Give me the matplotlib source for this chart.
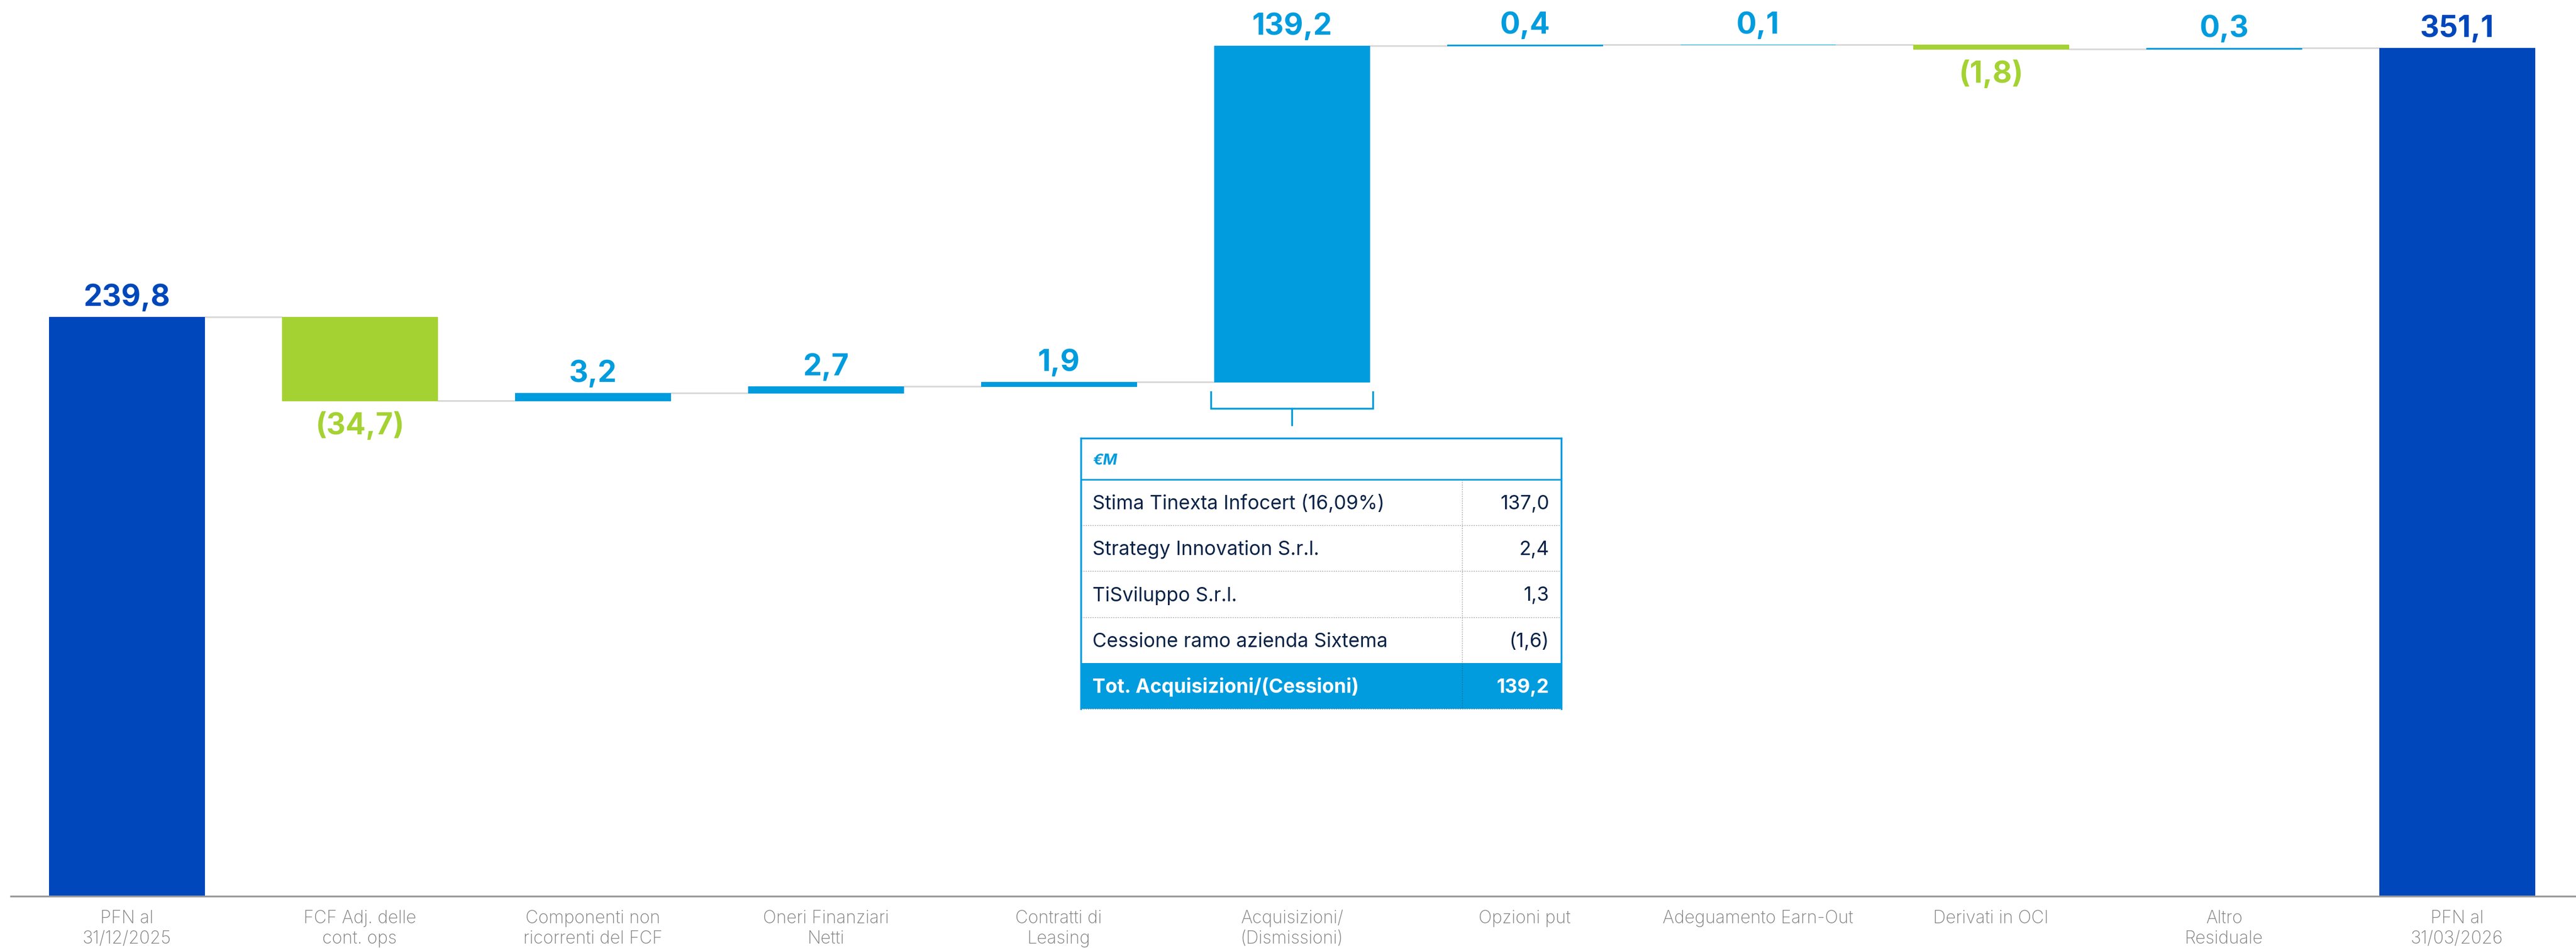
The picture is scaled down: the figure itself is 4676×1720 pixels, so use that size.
import matplotlib
matplotlib.use("Agg")
import matplotlib.pyplot as plt
import matplotlib.transforms as mtransforms

plt.rcParams['font.family'] = ['Inter', 'DejaVu Sans']

# ---------------- data ----------------
categories = ["PFN al\n31/12/2025", "FCF Adj. delle\ncont. ops", "Componenti non\nricorrenti del FCF",
              "Oneri Finanziari\nNetti", "Contratti di\nLeasing", "Acquisizioni/\n(Dismissioni)",
              "Opzioni put", "Adeguamento Earn-Out", "Derivati in OCI", "Altro\nResiduale",
              "PFN al\n31/03/2026"]
values = [239.8, -34.7, 3.2, 2.7, 1.9, 139.2, 0.4, 0.1, -1.8, 0.3, 351.1]
is_total = [True, False, False, False, False, False, False, False, False, False, True]

table_items = ["Stima Tinexta Infocert (16,09%)", "Strategy Innovation S.r.l.",
               "TiSviluppo S.r.l.", "Cessione ramo azienda Sixtema"]
table_values = [137.0, 2.4, 1.3, -1.6]
table_header = "€M"
table_total_label = "Tot. Acquisizioni/(Cessioni)"
table_total_value = 139.2

# ---------------- style ----------------
DARK = "#0047BB"
LIGHT = "#009CDE"
GREEN = "#A5D233"
CONN = "#D9D9D9"
AXIS = "#9A9A9A"
TICK = "#808080"
NAVY = "#0B2347"

W, H = 4676, 1720
fig = plt.figure(figsize=(W / 100, H / 100), dpi=100)
ax = fig.add_axes([0, 0, 1, 1])
ax.set_xlim(-0.5437, 10.511)
ax.set_ylim(-21.45, 371.0)
ax.axis('off')


def fmt(v):
    s = f"{abs(v):.1f}".replace(".", ",")
    return f"({s})" if v < 0 else s


def P(px, py):
    return px / W, 1 - py / H


bw = 0.667
running = 0.0
levels = []
for i, (v, tot) in enumerate(zip(values, is_total)):
    if tot:
        bottom, height = 0.0, v
        running = v
        color = DARK
    else:
        bottom = running if v >= 0 else running + v
        height = abs(v)
        running += v
        color = LIGHT if v >= 0 else GREEN
    levels.append(running)
    ax.bar(i, height, bottom=bottom, width=bw, color=color, edgecolor=color, linewidth=0.8,
           zorder=3)
    if v >= 0:
        ax.annotate(fmt(v), (i, bottom + height), xytext=(0, 14.4), textcoords='offset points',
                    ha='center', va='baseline', fontsize=39, fontweight='bold',
                    color=DARK if tot else LIGHT, zorder=5)
    else:
        ax.annotate(fmt(v), (i, bottom), xytext=(0, -14.4), textcoords='offset points',
                    ha='center', va='top', fontsize=39, fontweight='bold', color=GREEN, zorder=5)

# connectors
for i in range(len(values) - 1):
    ax.plot([i + bw / 2, i + 1 - bw / 2], [levels[i], levels[i]], color=CONN, lw=2.2,
            solid_capstyle='butt', zorder=2)

# baseline axis
ax.plot([-0.5437 + 18 / 423, 10.511], [0, 0], color=AXIS, lw=2.4, zorder=4,
        solid_capstyle='butt')

# category labels
blend = mtransforms.blended_transform_factory(ax.transData, fig.transFigure)
for i, lab in enumerate(categories):
    for j, line in enumerate(lab.split("\n")):
        x, y = P(0, 1675 + 37 * j)
        ax.text(i, y, line, transform=blend, ha='center', va='baseline', fontsize=23,
                color=TICK, fontweight='light')

# ---------------- bracket ----------------
bx0, bx1, bxm = 2198, 2492, 2345
for xs, ys in [([bx0, bx0, bx1, bx1], [711, 741, 741, 711]), ([bxm, bxm], [741, 771])]:
    pts = [P(x, y) for x, y in zip(xs, ys)]
    fig.lines.append(plt.Line2D([p[0] for p in pts], [p[1] for p in pts], color=LIGHT, lw=2.4,
                                transform=fig.transFigure, solid_joinstyle='miter'))

# ---------------- table ----------------
tx0, tx1, tcol = 1962, 2834, 2654
rows = [795, 870, 953, 1036, 1120, 1203, 1286]

# total row fill
x0, y0 = P(tx0, rows[-1])
x1, y1 = P(tx1, rows[-2])
fig.patches.append(plt.Rectangle((x0, y0), x1 - x0, y1 - y0, facecolor=LIGHT, edgecolor='none',
                                 transform=fig.transFigure))


def hline(py, xa, xb, **kw):
    a, b = P(xa, py), P(xb, py)
    fig.lines.append(plt.Line2D([a[0], b[0]], [a[1], b[1]], transform=fig.transFigure, **kw))


def vline(px, ya, yb, **kw):
    a, b = P(px, ya), P(px, yb)
    fig.lines.append(plt.Line2D([a[0], b[0]], [a[1], b[1]], transform=fig.transFigure, **kw))


for py in rows[2:5]:
    hline(py, tx0, tx1, color="#A8A8A8", lw=1.0, ls=(0, (1.5, 1.5)))
vline(tcol, rows[1], rows[5], color="#A8A8A8", lw=1.0, ls=(0, (1.5, 1.5)))
vline(tcol, rows[5], rows[6], color="#1B6E9E", lw=1.0, ls=(0, (1.5, 1.5)))
hline(rows[1], tx0, tx1, color=LIGHT, lw=2.0)
hline(rows[0], tx0, tx1, color=LIGHT, lw=2.4)
vline(tx0, rows[0], rows[6], color=LIGHT, lw=2.4)
vline(tx1, rows[0], rows[6], color=LIGHT, lw=2.4)
hline(rows[6], tx0, tx1, color="#5A8FB0", lw=1.0, ls=(0, (1.5, 1.5)))

# header text
fig.text(*P(1983, 843), table_header, ha='left', va='baseline', fontsize=20,
         fontweight='bold', style='italic', color=LIGHT)

for k, (item, val) in enumerate(zip(table_items, table_values)):
    yc = (rows[1 + k] + rows[2 + k]) / 2 + 12.5
    fig.text(*P(1983, yc), item, ha='left', va='baseline', fontsize=25.5, color=NAVY)
    fig.text(*P(2812, yc), fmt(val), ha='right', va='baseline', fontsize=25.5, color=NAVY)

yc = (rows[5] + rows[6]) / 2 + 12.5
fig.text(*P(1983, yc), table_total_label, ha='left', va='baseline', fontsize=25.5,
         fontweight='bold', color='white')
fig.text(*P(2812, yc), fmt(table_total_value), ha='right', va='baseline', fontsize=25.5,
         fontweight='bold', color='white')

fig.savefig("out.png", dpi=100, facecolor='white')
